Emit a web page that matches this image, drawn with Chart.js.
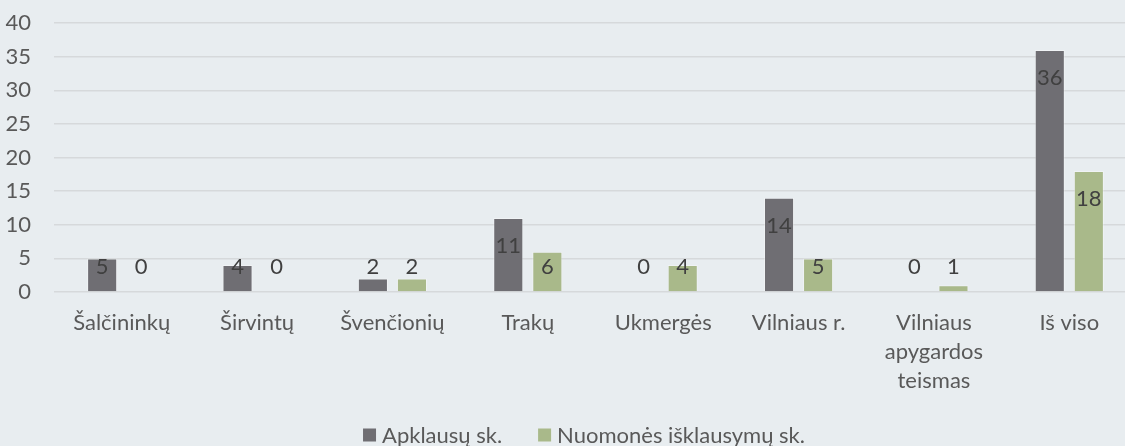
<!DOCTYPE html>
<html>
<head>
<meta charset="utf-8">
<script src="https://cdn.jsdelivr.net/npm/chart.js@4"></script>
<style>
  html, body { margin: 0; padding: 0; overflow: hidden; background: #E8EDF0; }
  #wrap { width: 1137px; height: 446px; }
</style>
</head>
<body>
<div id="wrap"><canvas id="barChart"></canvas></div>
<script>
// data
var categories = ["Šalčininkų", "Širvintų", "Švenčionių", "Trakų", "Ukmergės", "Vilniaus r.", ["Vilniaus", "apygardos", "teismas"], "Iš viso"];
var apklausos = [5, 4, 2, 11, 0, 14, 0, 36];
var isklausymai = [0, 0, 2, 6, 4, 5, 1, 18];
var seriesNames = ["Apklausų sk.", "Nuomonės išklausymų sk."];
var yMax = 40;
var yStep = 5;

var FONT = "Lato, 'Open Sans', sans-serif";
var FS = 22;
var colDark = '#6F6E73';
var colGreen = '#A9B98A';

// value labels near the top end of each bar
var valueLabels = {
  id: 'valueLabels',
  afterDatasetsDraw: function(chart) {
    var ctx = chart.ctx;
    var base = chart.scales.y.getPixelForValue(0);
    ctx.save();
    ctx.font = FS + 'px ' + FONT;
    ctx.fillStyle = '#404040';
    ctx.textAlign = 'center';
    ctx.textBaseline = 'middle';
    chart.data.datasets.forEach(function(ds, i) {
      chart.getDatasetMeta(i).data.forEach(function(bar, j) {
        var y = Math.min(bar.y + 28, base - 25);
        ctx.fillText(ds.data[j], bar.x, y);
      });
    });
    ctx.restore();
  }
};

// legend at the bottom, drawn by hand to get the spacing
var bottomLegend = {
  id: 'bottomLegend',
  afterDraw: function(chart) {
    var ctx = chart.ctx;
    ctx.save();
    ctx.font = FS + 'px ' + FONT;
    ctx.textBaseline = 'middle';
    var box = 13, gap = 6, between = 36;
    var items = chart.data.datasets.map(function(ds) {
      return { text: ds.label, color: ds.backgroundColor, w: box + gap + ctx.measureText(ds.label).width };
    });
    var total = items.reduce(function(s, it) { return s + it.w; }, 0) + between * (items.length - 1);
    var x = 584 - total / 2;
    var cy = 435;
    items.forEach(function(it) {
      ctx.fillStyle = it.color;
      ctx.fillRect(x, cy - box / 2, box, box);
      ctx.fillStyle = '#595959';
      ctx.fillText(it.text, x + box + gap, cy + 1);
      x += it.w + between;
    });
    ctx.restore();
  }
};

var ctxB = document.getElementById("barChart").getContext('2d');
var myBarChart = new Chart(ctxB, {
  type: 'bar',
  data: {
    labels: categories,
    datasets: [{
        label: seriesNames[0],
        data: apklausos,
        backgroundColor: colDark,
        borderColor: 'rgba(255,255,255,0.35)',
        borderWidth: 1,
        categoryPercentage: 0.577,
        barPercentage: 0.77
      },
      {
        label: seriesNames[1],
        data: isklausymai,
        backgroundColor: colGreen,
        borderColor: 'rgba(255,255,255,0.35)',
        borderWidth: 1,
        categoryPercentage: 0.577,
        barPercentage: 0.77
      }
    ]
  },
  options: {
    responsive: true,
    maintainAspectRatio: false,
    animation: false,
    devicePixelRatio: 1,
    layout: { padding: { top: 23, right: 0, left: 0, bottom: 0 } },
    plugins: {
      legend: { display: false },
      tooltip: { enabled: false }
    },
    scales: {
      x: {
        grid: { display: false, drawTicks: false },
        border: { display: false },
        ticks: {
          color: '#595959',
          font: { family: FONT, size: FS, lineHeight: 1.32 },
          padding: 16,
          maxRotation: 0,
          autoSkip: false
        },
        afterFit: function(scale) { scale.height = 154; }
      },
      y: {
        min: 0,
        max: yMax,
        grid: { color: '#D6D9DB', lineWidth: 1.5, drawTicks: false },
        border: { display: false },
        ticks: {
          stepSize: yStep,
          color: '#595959',
          font: { family: FONT, size: FS },
          padding: 23
        },
        afterFit: function(scale) {
          scale.width = 54;
          scale.paddingTop = 0;
          scale.paddingBottom = 0;
        }
      }
    }
  },
  plugins: [valueLabels, bottomLegend]
});
</script>
</body>
</html>
